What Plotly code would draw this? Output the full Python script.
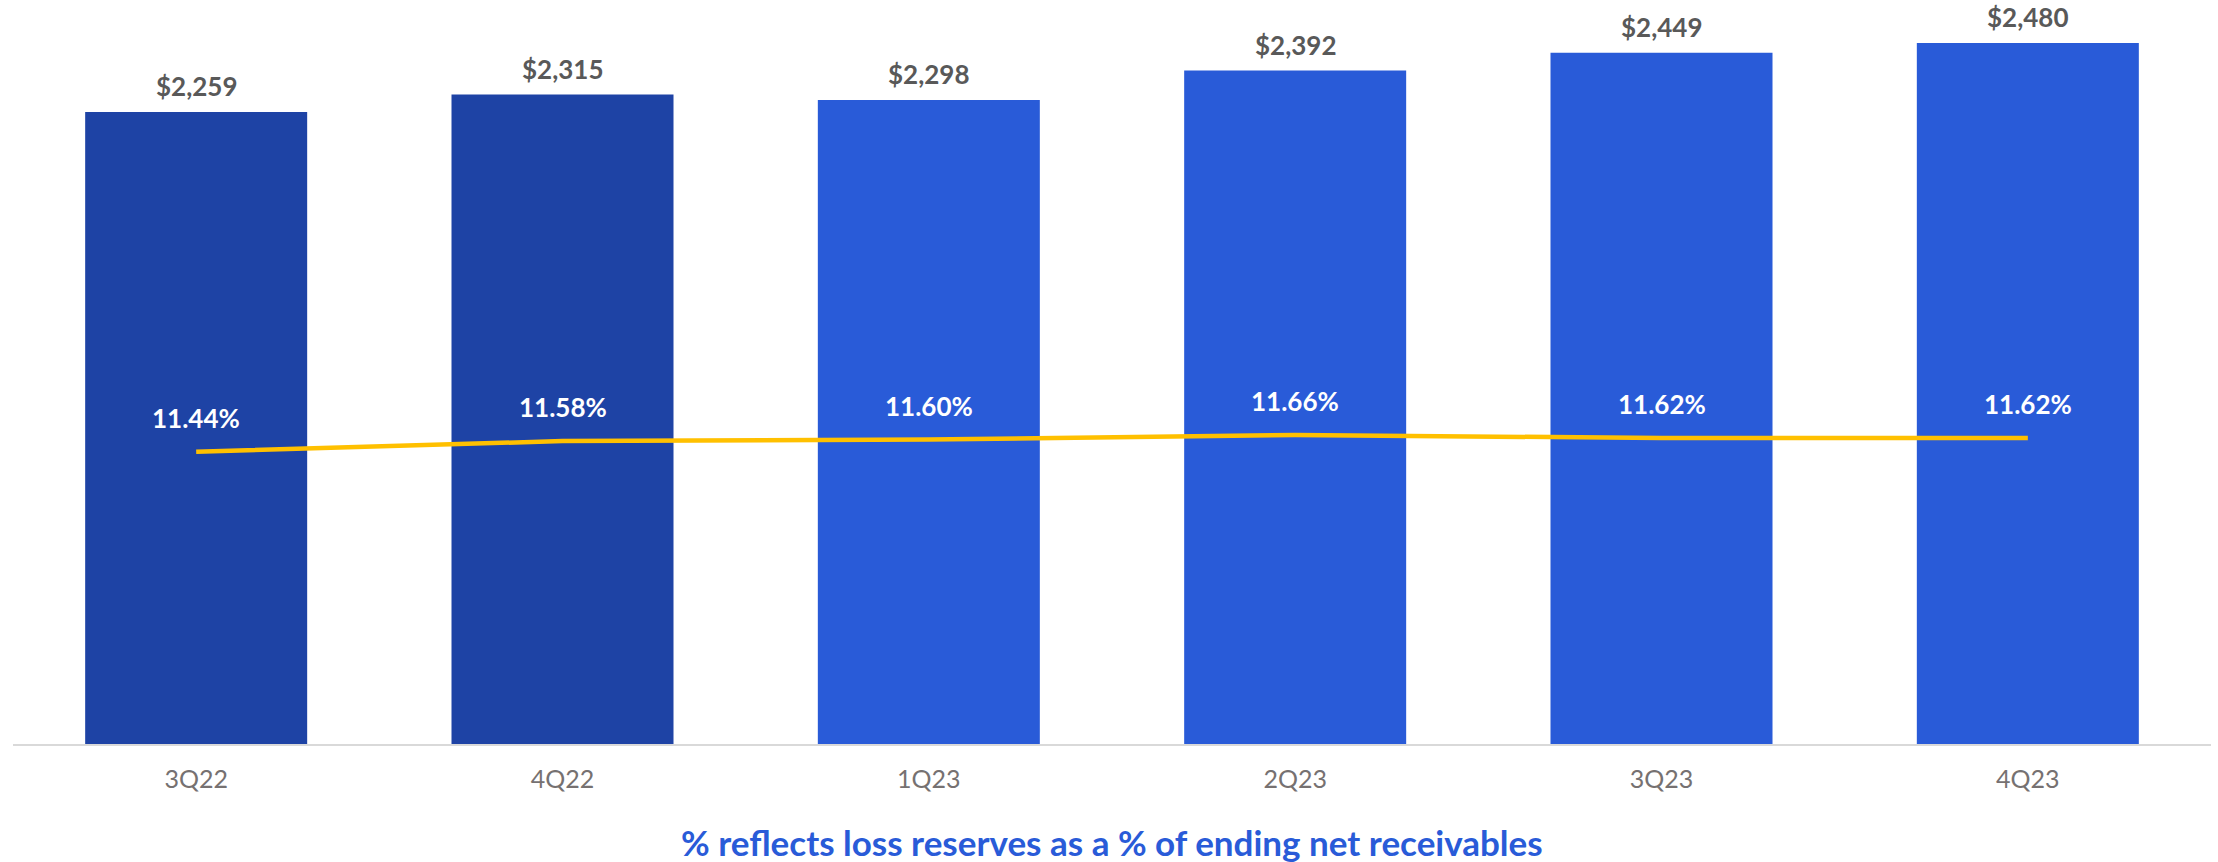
import plotly.graph_objects as go

# Quarterly data
quarters = ["3Q22", "4Q22", "1Q23", "2Q23", "3Q23", "4Q23"]
reserves = [2259, 2315, 2298, 2392, 2449, 2480]          # loss reserves, $ millions
reserve_pct = [11.44, 11.58, 11.60, 11.66, 11.62, 11.62]  # % of ending net receivables
reserve_labels = ["$2,259", "$2,315", "$2,298", "$2,392", "$2,449", "$2,480"]
pct_labels = ["11.44%", "11.58%", "11.60%", "11.66%", "11.62%", "11.62%"]

DARK_BLUE = "#1e43a5"
BRIGHT_BLUE = "#295bd8"
GOLD = "#ffc000"
FONT = "Lato"

bar_colors = [DARK_BLUE if q.endswith("22") else BRIGHT_BLUE for q in quarters]

fig = go.Figure()

fig.add_trace(go.Bar(
    x=quarters,
    y=reserves,
    marker=dict(color=bar_colors, line=dict(width=0)),
    hoverinfo="skip",
    showlegend=False,
))

fig.add_trace(go.Scatter(
    x=quarters,
    y=reserve_pct,
    mode="lines",
    line=dict(color=GOLD, width=4.5),
    yaxis="y2",
    hoverinfo="skip",
    showlegend=False,
))

annotations = []
for q, v, lab in zip(quarters, reserves, reserve_labels):
    annotations.append(dict(
        x=q, y=v, xref="x", yref="y", text=lab, showarrow=False,
        yshift=26, font=dict(family=FONT, size=26, color="#595959", weight="bold"),
    ))
for q, v, lab in zip(quarters, reserve_pct, pct_labels):
    annotations.append(dict(
        x=q, y=v, xref="x", yref="y2", text=lab, showarrow=False,
        yshift=34, font=dict(family=FONT, size=26, color="#ffffff", weight="bold"),
    ))

# footnote below the axis
annotations.append(dict(
    x=0.5, y=-(842 - 744) / 744, xref="paper", yref="paper", yanchor="middle",
    text="% reflects loss reserves as a % of ending net receivables",
    showarrow=False, font=dict(family=FONT, size=35, color=BRIGHT_BLUE, weight="bold"),
))

fig.update_layout(
    width=2218,
    height=862,
    margin=dict(l=13, r=7, t=0, b=118),
    paper_bgcolor="white",
    plot_bgcolor="white",
    bargap=0.394,
    font=dict(family=FONT),
    xaxis=dict(
        showgrid=False,
        showline=True,
        linecolor="#d9d9d9",
        linewidth=2,
        ticks="",
        tickfont=dict(family=FONT, size=25, color="#767171"),
        ticklabelstandoff=12,
    ),
    yaxis=dict(
        range=[235, 2618],
        visible=False,
        showgrid=False,
        zeroline=False,
    ),
    yaxis2=dict(
        range=[7.599, 17.376],
        overlaying="y",
        side="right",
        visible=False,
        showgrid=False,
        zeroline=False,
    ),
    annotations=annotations,
)

fig.write_html("out.html")
